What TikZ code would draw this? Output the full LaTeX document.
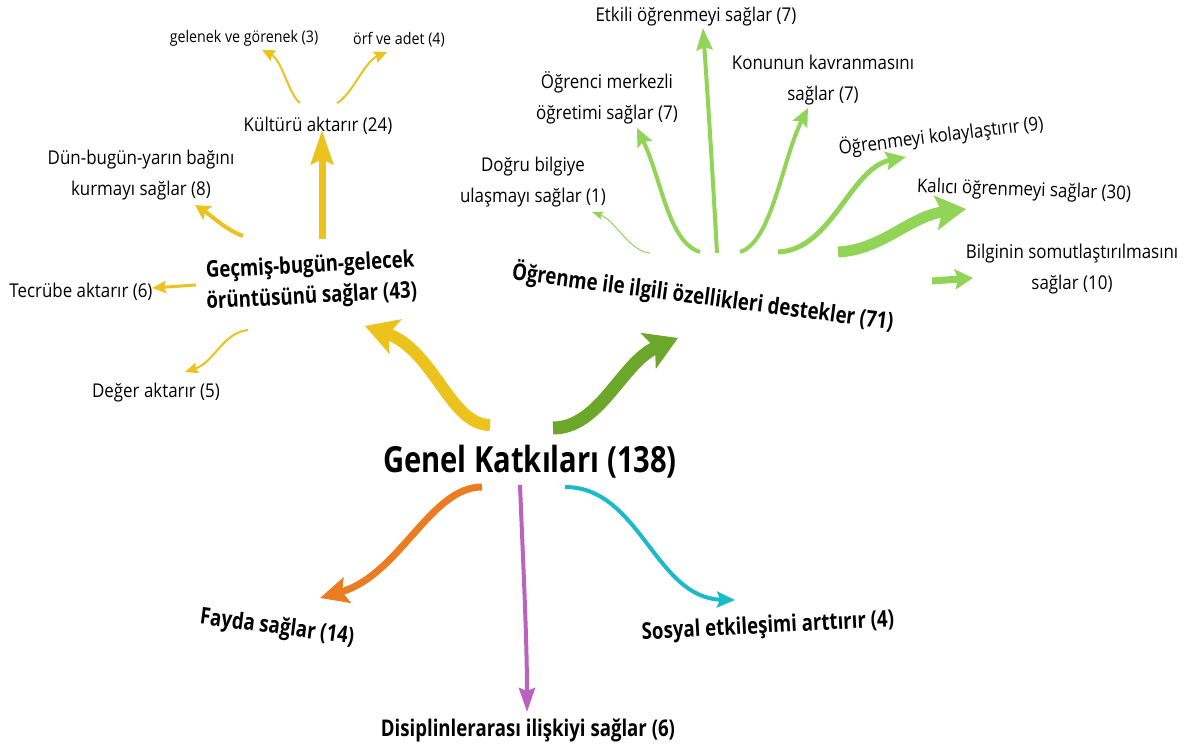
\documentclass[tikz,border=0pt]{standalone}
\usepackage{fontspec}
\setmainfont{Open Sans}
\newfontfamily\rfont{Open Sans}[FakeStretch=0.89]
\newfontfamily\bfont{Open Sans}[FakeStretch=0.81]
\usetikzlibrary{arrows.meta}
\definecolor{ylw}{RGB}{236,194,28}
\definecolor{lgrn}{RGB}{146,212,88}
\definecolor{dgrn}{RGB}{108,166,42}
\definecolor{orng}{RGB}{234,125,34}
\definecolor{prpl}{RGB}{186,98,190}
\definecolor{cyn}{RGB}{26,186,200}
\begin{document}
\begin{tikzpicture}[x=1pt,y=-1pt,
  every node/.style={inner sep=0pt, align=center, text=black},
  txt/.style={font=\rfont\fontsize{19}{31}\selectfont},
  sml/.style={font=\rfont\fontsize{16}{20}\selectfont},
  big/.style={font=\bfont\bfseries\fontsize{23}{31}\selectfont},
  huge/.style={font=\bfont\bfseries\fontsize{36}{40}\selectfont},
  conn/.style={line cap=butt}]
\useasboundingbox (0,0) rectangle (1189,751);
\fill[white] (0,0) rectangle (1189,751);

% nodes
\node[huge] (genel) at (530,462) {Genel Katkıları (138)};
\node[big, rotate=3] (gecmis) at (311,282) {Geçmiş-bugün-gelecek\\örüntüsünü sağlar (43)};
\node[big, rotate=-7.5] (ogrenme) at (703,297) {Öğrenme ile ilgili özellikleri destekler (71)};
\node[big, rotate=-7.5] (fayda) at (277,628) {Fayda sağlar (14)};
\node[big, rotate=3] (sosyal) at (768,627) {Sosyal etkileşimi arttırır (4)};
\node[big] (disiplin) at (528,730) {Disiplinlerarası ilişkiyi sağlar (6)};

\node[sml] (gelenek) at (244,38) {gelenek ve görenek (3)};
\node[sml] (orf) at (399,40) {örf ve adet (4)};
\node[txt] (kultur) at (318,126) {Kültürü aktarır (24)};
\node[txt] (dun) at (141,175) {Dün-bugün-yarın bağını\\kurmayı sağlar (8)};
\node[txt] (tecrube) at (81,292) {Tecrübe aktarır (6)};
\node[txt] (deger) at (156,393) {Değer aktarır (5)};

\node[txt] (etkili) at (696,17) {Etkili öğrenmeyi sağlar (7)};
\node[txt] (ogrenci) at (607,98) {Öğrenci merkezli\\öğretimi sağlar (7)};
\node[txt] (konunun) at (823,80) {Konunun kavranmasını\\sağlar (7)};
\node[txt] (dogru) at (533,182) {Doğru bilgiye\\ulaşmayı sağlar (1)};
\node[txt, rotate=7] (kolay) at (941,136) {Öğrenmeyi kolaylaştırır (9)};
\node[txt, rotate=-2] (kalici) at (1024,191) {Kalıcı öğrenmeyi sağlar (30)};
\node[txt] (bilgi) at (1072,269) {Bilginin somutlaştırılmasını\\sağlar (10)};

% connector end points
\coordinate (yA) at (490,425); \coordinate (yB) at (365,326);
\coordinate (gA) at (553,428); \coordinate (gB) at (678,338);
\coordinate (oA) at (482,487); \coordinate (oB) at (320,598);
\coordinate (pA) at (520,485); \coordinate (pB) at (527,712);
\coordinate (cA) at (565,487); \coordinate (cB) at (735,600);

\coordinate (kA) at (322,239); \coordinate (kB) at (322,130);
\coordinate (dA) at (243,236); \coordinate (dB) at (195,205);
\coordinate (tA) at (196,285); \coordinate (tB) at (152,288);
\coordinate (vA) at (248,330); \coordinate (vB) at (185,372);
\coordinate (geA) at (300,103); \coordinate (geB) at (262,50);
\coordinate (orA) at (337,103); \coordinate (orB) at (387,52);

\coordinate (drA) at (650,253); \coordinate (drB) at (592,212);
\coordinate (ocA) at (700,252); \coordinate (ocB) at (637,128);
\coordinate (etA) at (717,253); \coordinate (etB) at (703,28);
\coordinate (knA) at (740,252); \coordinate (knB) at (808,108);
\coordinate (klA) at (778,252); \coordinate (klB) at (906,157);
\coordinate (kcA) at (838,252); \coordinate (kcB) at (966,209);
\coordinate (bgA) at (932,281); \coordinate (bgB) at (973,278);

% main arrows
\draw[conn, ylw, line width=12pt, -{Stealth[length=32pt,width=36pt,inset=7pt]}]
  (yA) .. controls (450,425) and (434,350) .. (yB);
\draw[conn, dgrn, line width=13pt, -{Stealth[length=32pt,width=38pt,inset=7pt]}]
  (gA) .. controls (600,428) and (622,362) .. (gB);
\draw[conn, orng, line width=7pt, -{Stealth[length=28pt,width=26pt,inset=5pt]}]
  (oA) .. controls (430,487) and (400,575) .. (oB);
\draw[conn, prpl, line width=4pt, -{Stealth[length=24pt,width=16pt,inset=3pt]}]
  (pA) .. controls (523,560) and (527,640) .. (pB);
\draw[conn, cyn, line width=4pt, -{Stealth[length=18pt,width=16pt,inset=3pt]}]
  (cA) .. controls (640,487) and (655,598) .. (cB);

% yellow sub arrows
\draw[conn, ylw, line width=7pt, -{Stealth[length=34pt,width=22pt,inset=5pt]}] (kA) -- (kB);
\draw[conn, ylw, line width=4pt, -{Stealth[length=15pt,width=16pt,inset=3pt]}]
  (dA) .. controls (226,230) and (212,216) .. (dB);
\draw[conn, ylw, line width=3pt, -{Stealth[length=14pt,width=12pt,inset=2pt]}] (tA) -- (tB);
\draw[conn, ylw, line width=2pt, -{Stealth[length=13pt,width=11pt,inset=2pt]}]
  (vA) .. controls (222,333) and (215,362) .. (vB);
\draw[conn, ylw, line width=2pt, -{Stealth[length=13pt,width=12pt,inset=2pt]}]
  (geA) .. controls (289,95) and (282,60) .. (geB);
\draw[conn, ylw, line width=2pt, -{Stealth[length=13pt,width=12pt,inset=2pt]}]
  (orA) .. controls (352,95) and (364,62) .. (orB);

% green sub arrows
\draw[conn, lgrn, line width=1pt, -{Stealth[length=11pt,width=8pt,inset=2pt]}]
  (drA) .. controls (630,252) and (615,220) .. (drB);
\draw[conn, lgrn, line width=4pt, -{Stealth[length=18pt,width=16pt,inset=3pt]}]
  (ocA) .. controls (668,242) and (662,180) .. (ocB);
\draw[conn, lgrn, line width=4pt, -{Stealth[length=22pt,width=16pt,inset=3pt]}]
  (etA) .. controls (713,180) and (708,100) .. (etB);
\draw[conn, lgrn, line width=4pt, -{Stealth[length=18pt,width=16pt,inset=3pt]}]
  (knA) .. controls (772,242) and (782,160) .. (knB);
\draw[conn, lgrn, line width=5pt, -{Stealth[length=20pt,width=18pt,inset=3pt]}]
  (klA) .. controls (832,250) and (850,168) .. (klB);
\draw[conn, lgrn, line width=11pt, -{Stealth[length=30pt,width=34pt,inset=6pt]}]
  (kcA) .. controls (882,250) and (910,216) .. (kcB);
\draw[conn, lgrn, line width=7pt, -{Stealth[length=18pt,width=20pt,inset=3pt]}] (bgA) -- (bgB);
\end{tikzpicture}
\end{document}
